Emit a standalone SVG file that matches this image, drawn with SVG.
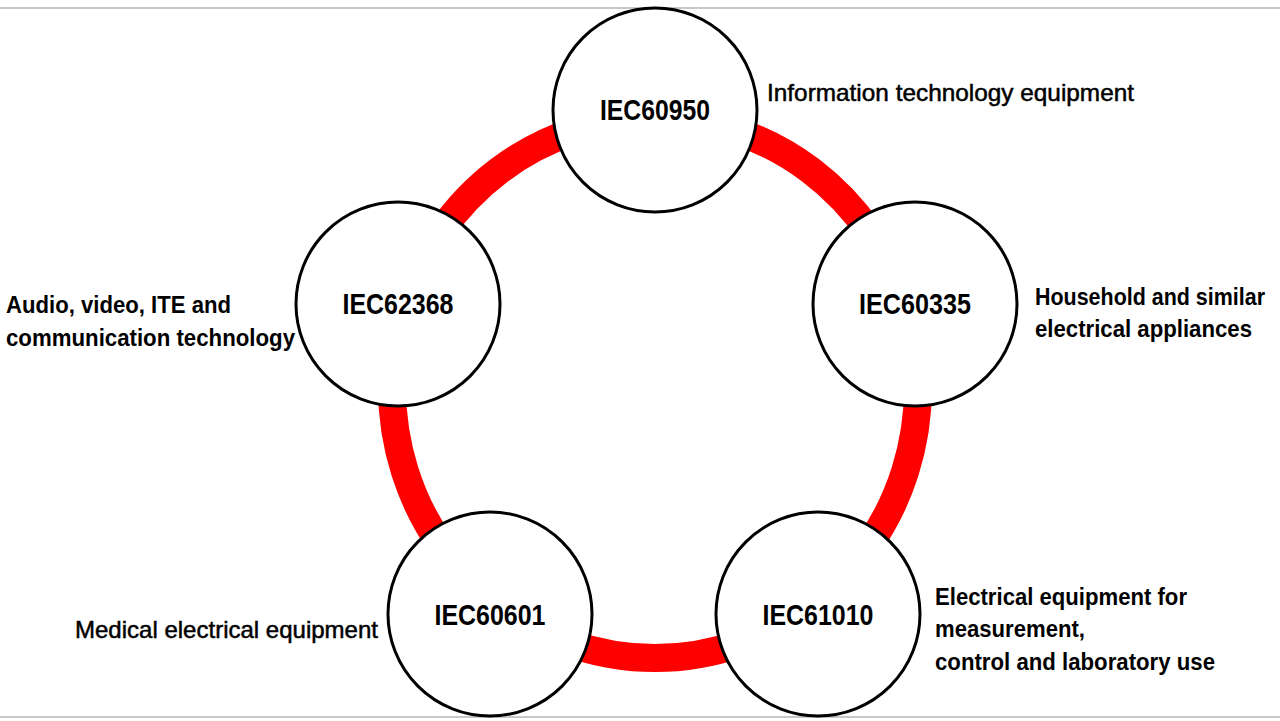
<svg xmlns="http://www.w3.org/2000/svg" width="1280" height="721" viewBox="0 0 1280 721">
<style>
.bg{fill:#fff}
.frame{stroke:#c8c8c8;stroke-width:2}
.ring{fill:none;stroke:#ff0000;stroke-width:28}
.node{fill:#fff;stroke:#000;stroke-width:3}
.id{font-family:"Liberation Sans",Arial,sans-serif;font-weight:bold;font-size:30px;fill:#000;text-anchor:middle}
.lbl{font-family:"Liberation Sans",Arial,sans-serif;font-weight:bold;font-size:23px;fill:#000}
.lblr{font-family:"Liberation Sans",Arial,sans-serif;font-size:24px;fill:#000;stroke:#000;stroke-width:0.5}
</style>
<rect class="bg" x="0" y="0" width="1280" height="721"/>
<line class="frame" x1="0" y1="8" x2="1280" y2="8"/>
<line class="frame" x1="0" y1="717" x2="1280" y2="717"/>
<g id="connectors">
<path class="ring" d="M655,118 A263,270 0 0 1 905.8,306.8"/>
<path class="ring" d="M905.8,306.8 A263,270 0 0 1 811.5,605"/>
<path class="ring" d="M811.5,605 A263,270 0 0 1 498.5,605"/>
<path class="ring" d="M498.5,605 A263,270 0 0 1 404.2,306.8"/>
<path class="ring" d="M404.2,306.8 A263,270 0 0 1 655,118"/>
</g>
<g id="node-iec60950">
<circle class="node" cx="655" cy="110" r="102"/>
<text class="id" x="655" y="120" textLength="110" lengthAdjust="spacingAndGlyphs">IEC60950</text>
<text class="lblr" x="767" y="101" textLength="367" lengthAdjust="spacingAndGlyphs">Information technology equipment</text>
</g>
<g id="node-iec60335">
<circle class="node" cx="915" cy="304" r="102"/>
<text class="id" x="915" y="314" textLength="112" lengthAdjust="spacingAndGlyphs">IEC60335</text>
<text class="lbl" x="1035" y="305" font-size="22" textLength="230" lengthAdjust="spacingAndGlyphs">Household and similar</text>
<text class="lbl" x="1035" y="337" textLength="217" lengthAdjust="spacingAndGlyphs">electrical appliances</text>
</g>
<g id="node-iec61010">
<circle class="node" cx="818" cy="614" r="102"/>
<text class="id" x="818" y="625" textLength="111" lengthAdjust="spacingAndGlyphs">IEC61010</text>
<text class="lbl" x="935" y="605" textLength="252" lengthAdjust="spacingAndGlyphs">Electrical equipment for</text>
<text class="lbl" x="935" y="637" textLength="150" lengthAdjust="spacingAndGlyphs">measurement,</text>
<text class="lbl" x="935" y="670" textLength="280" lengthAdjust="spacingAndGlyphs">control and laboratory use</text>
</g>
<g id="node-iec60601">
<circle class="node" cx="490" cy="614" r="102"/>
<text class="id" x="490" y="625" textLength="111" lengthAdjust="spacingAndGlyphs">IEC60601</text>
<text class="lblr" x="75" y="638" textLength="303" lengthAdjust="spacingAndGlyphs">Medical electrical equipment</text>
</g>
<g id="node-iec62368">
<circle class="node" cx="398" cy="304" r="102"/>
<text class="id" x="398" y="314" textLength="111" lengthAdjust="spacingAndGlyphs">IEC62368</text>
<text class="lbl" x="6" y="313" textLength="225" lengthAdjust="spacingAndGlyphs">Audio, video, ITE and</text>
<text class="lbl" x="6" y="346" textLength="289" lengthAdjust="spacingAndGlyphs">communication technology</text>
</g>
</svg>
